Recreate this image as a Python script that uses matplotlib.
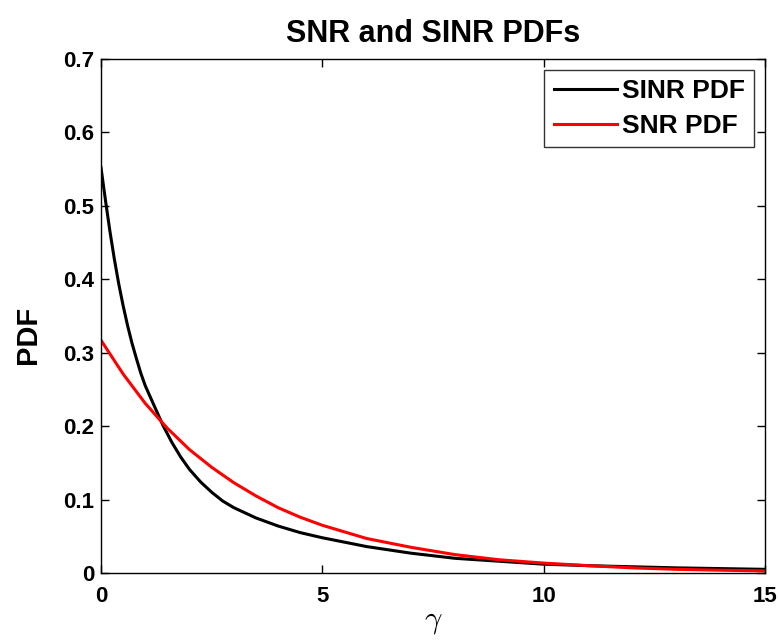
#!/usr/bin/env python3
"""
SNR and SINR PDFs, MATLAB-style figure.
"""

import matplotlib
matplotlib.use('Agg')
import matplotlib.pyplot as plt

# ============================================================================
# DATA
# ============================================================================

gamma_sinr = [0, 0.1, 0.2, 0.3, 0.4, 0.5, 0.6, 0.7, 0.8, 0.9, 1.0, 1.2, 1.4,
              1.6, 1.8, 2.0, 2.25, 2.5, 2.75, 3.0, 3.5, 4.0, 4.5, 5.0, 5.5,
              6.0, 7.0, 8.0, 9.0, 10, 11, 12, 13, 14, 15]
pdf_sinr = [0.552, 0.508, 0.466, 0.428, 0.394, 0.364, 0.337, 0.313, 0.292,
            0.272, 0.255, 0.228, 0.201, 0.178, 0.158, 0.141, 0.124, 0.110,
            0.098, 0.089, 0.075, 0.064, 0.055, 0.048, 0.042, 0.036, 0.027,
            0.020, 0.016, 0.012, 0.010, 0.0085, 0.007, 0.006, 0.005]

gamma_snr = [0, 0.5, 1.0, 1.5, 2.0, 2.5, 3.0, 3.5, 4.0, 4.5, 5.0, 6, 7, 8, 9,
             10, 11, 12, 13, 14, 15]
pdf_snr = [0.317, 0.271, 0.231, 0.197, 0.168, 0.144, 0.123, 0.105, 0.089,
           0.076, 0.065, 0.047, 0.035, 0.025, 0.018, 0.0135, 0.010, 0.007,
           0.005, 0.0038, 0.0028]

x_ticks = [0, 5, 10, 15]
y_ticks = [0, 0.1, 0.2, 0.3, 0.4, 0.5, 0.6, 0.7]
y_tick_labels = ['0', '0.1', '0.2', '0.3', '0.4', '0.5', '0.6', '0.7']

# ============================================================================

plt.rcParams['font.family'] = ['Liberation Sans', 'DejaVu Sans']
plt.rcParams['font.weight'] = 'bold'
plt.rcParams['mathtext.fontset'] = 'cm'

fig = plt.figure(figsize=(7.79, 6.4), dpi=100)
ax = fig.add_axes([101 / 779, 67 / 640, 664 / 779, 514 / 640])

ax.plot(gamma_sinr, pdf_sinr, color='k', linewidth=2.2, label='SINR PDF')
ax.plot(gamma_snr, pdf_snr, color='r', linewidth=2.2, label='SNR PDF')

ax.set_xlim(0, 15)
ax.set_ylim(0, 0.7)
ax.set_xticks(x_ticks)
ax.set_yticks(y_ticks)
ax.set_yticklabels(y_tick_labels)

ax.tick_params(direction='in', length=6, width=1, top=True, right=True,
               labelsize=16)
ax.tick_params(axis='x', pad=9)
ax.tick_params(axis='y', pad=5)
for lbl in ax.get_xticklabels() + ax.get_yticklabels():
    lbl.set_fontweight('bold')
for sp in ax.spines.values():
    sp.set_linewidth(1.0)

ax.set_title('SNR and SINR PDFs', fontsize=22, fontweight='bold', pad=12)
ax.set_ylabel('PDF', fontsize=21, fontweight='bold')
ax.yaxis.set_label_coords(-0.089, 0.463)
ax.set_xlabel(r'$\gamma$', fontsize=22)
ax.xaxis.set_label_coords(0.5, -0.064)

leg = ax.legend(loc='upper right', fontsize=19, frameon=True, fancybox=False,
                edgecolor='k', handlelength=2.4, handletextpad=0.2,
                borderaxespad=0.4, labelspacing=0.42, borderpad=0.35)
leg.get_frame().set_linewidth(1.0)
for t in leg.get_texts():
    t.set_fontweight('bold')

plt.savefig('out.png', dpi=100)
